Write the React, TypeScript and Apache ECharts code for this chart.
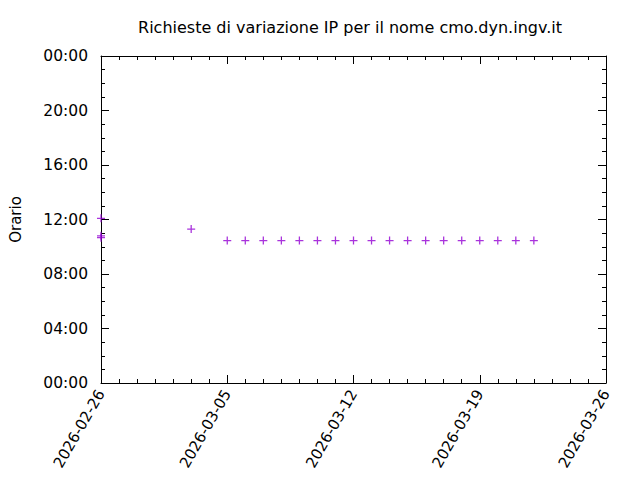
import React, { useEffect, useRef } from "react";
import * as echarts from "echarts";

const START_DATE = "2026-02-26";
const END_DATE = "2026-03-26";
const TITLE = "Richieste di variazione IP per il nome cmo.dyn.ingv.it";
const Y_NAME = "Orario";

const requestDates = [
  "2026-02-26", "2026-02-26", "2026-02-26", "2026-03-03",
  "2026-03-05", "2026-03-06", "2026-03-07", "2026-03-08", "2026-03-09", "2026-03-10",
  "2026-03-11", "2026-03-12", "2026-03-13", "2026-03-14", "2026-03-15", "2026-03-16",
  "2026-03-17", "2026-03-18", "2026-03-19", "2026-03-20", "2026-03-21", "2026-03-22",
];
const requestTimes = [
  "12:05", "10:40", "10:48", "11:18",
  "10:27", "10:27", "10:27", "10:27", "10:27", "10:27",
  "10:27", "10:27", "10:27", "10:27", "10:27", "10:27",
  "10:27", "10:27", "10:27", "10:27", "10:27", "10:27",
];

const DAY = 86400000;
const startMs = Date.parse(START_DATE);
const dayOffset = (d: string) => (Date.parse(d) - startMs) / DAY;
const hoursOf = (t: string) => {
  const [h, m] = t.split(":").map(Number);
  return h + m / 60;
};
const fmtDate = (v: number) => new Date(startMs + v * DAY).toISOString().slice(0, 10);
const fmtHour = (v: number) => String(Math.round(v) % 24).padStart(2, "0") + ":00";

const COLOR = "#9400D3";
const FONT = "DejaVu Sans";
const PLUS = "path://M4.2,0 H5.8 V4.2 H10 V5.8 H5.8 V10 H4.2 V5.8 H0 V4.2 H4.2 Z";

export default function App() {
  const ref = useRef<HTMLDivElement>(null);
  useEffect(() => {
    if (!ref.current) return;
    const chart = echarts.init(ref.current, null, { renderer: "svg" });
    const xMax = dayOffset(END_DATE);
    const axisLine = { show: true, onZero: false, lineStyle: { color: "#000", width: 1 } };
    const tick = { show: true, inside: true, length: 8, lineStyle: { color: "#000" } };
    const minor = (n: number) => ({ show: true, splitNumber: n, length: 4, lineStyle: { color: "#000" } });
    const data = requestDates.map((d, i) => [dayOffset(d), hoursOf(requestTimes[i])]);
    chart.setOption({
      animation: false,
      backgroundColor: "#fff",
      title: {
        text: TITLE,
        left: 345,
        top: 14,
        textAlign: "center",
        textStyle: { fontFamily: FONT, fontSize: 16, fontWeight: "normal", color: "#000" },
      },
      grid: { left: 101, right: 34, top: 56, bottom: 97 },
      xAxis: [
        {
          type: "value", min: 0, max: xMax, interval: 7,
          axisLine, axisTick: tick, minorTick: minor(7), splitLine: { show: false },
          axisLabel: {
            rotate: 60, margin: 8, formatter: fmtDate,
            fontFamily: FONT, fontSize: 15, color: "#000",
          },
        },
        {
          type: "value", min: 0, max: xMax, interval: 7, position: "top",
          axisLine, axisTick: tick, minorTick: minor(7), splitLine: { show: false },
          axisLabel: { show: false },
        },
      ],
      yAxis: [
        {
          type: "value", min: 0, max: 24, interval: 4,
          axisLine, axisTick: tick, minorTick: minor(4), splitLine: { show: false },
          axisLabel: { margin: 13, formatter: fmtHour, fontFamily: FONT, fontSize: 15.5, color: "#000" },
          name: Y_NAME, nameLocation: "middle", nameGap: 78, nameRotate: 90,
          nameTextStyle: { fontFamily: FONT, fontSize: 15, color: "#000" },
        },
        {
          type: "value", min: 0, max: 24, interval: 4, position: "right",
          axisLine, axisTick: tick, minorTick: minor(4), splitLine: { show: false },
          axisLabel: { show: false },
        },
      ],
      series: [
        {
          type: "scatter",
          data,
          symbol: PLUS,
          symbolSize: 8,
          itemStyle: { color: COLOR },
          clip: false,
          z: 1,
        },
      ],
    });
    return () => chart.dispose();
  }, []);
  return <div ref={ref} style={{ width: 640, height: 480, position: "absolute", left: 0, top: 0 }} />;
}
